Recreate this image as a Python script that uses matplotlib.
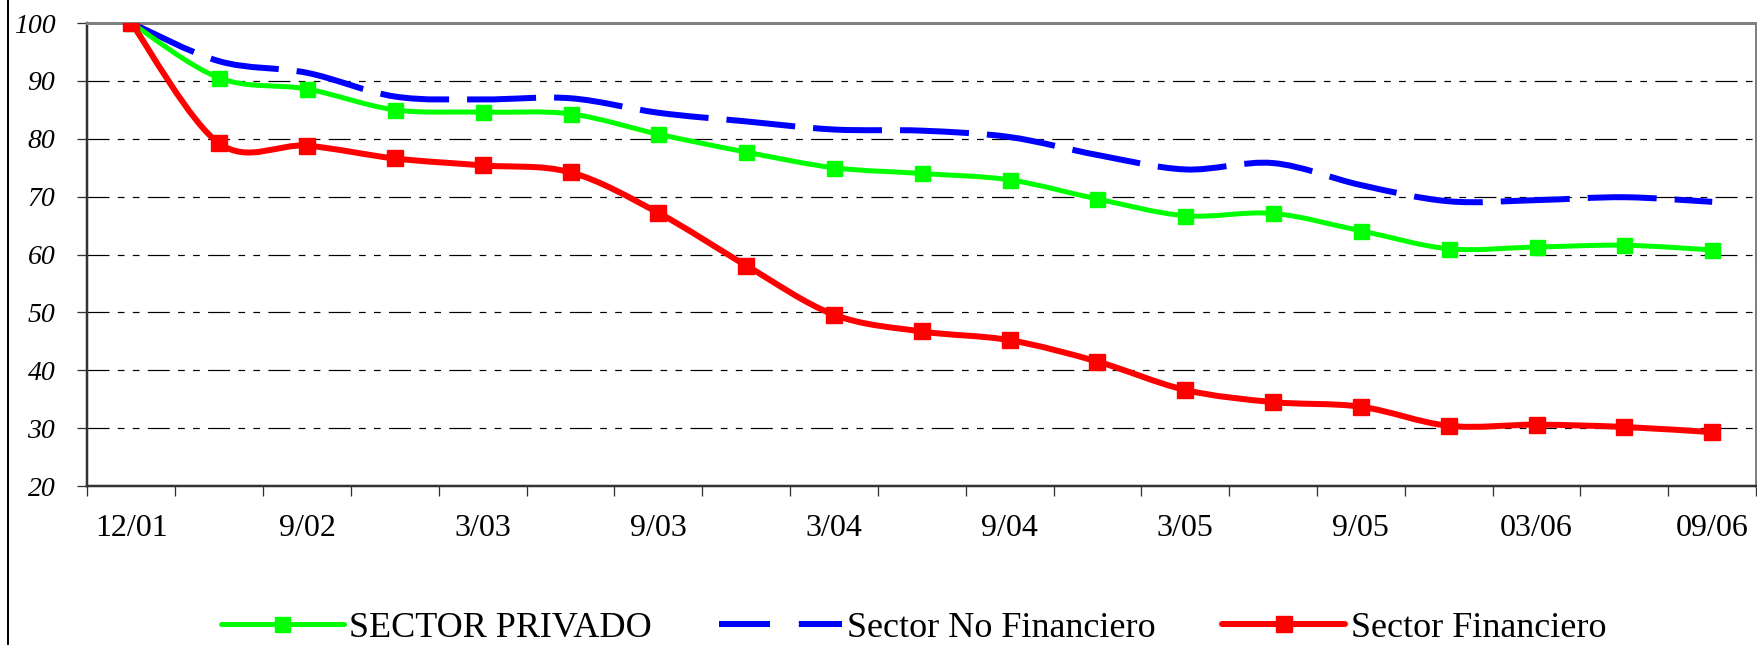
import numpy as np
import matplotlib
matplotlib.use('Agg')
import matplotlib.pyplot as plt
from matplotlib.path import Path
from matplotlib.patches import PathPatch
from matplotlib.lines import Line2D

# %%
# Data (index, base 12/01 = 100)
tick_labels = ['12/01', '', '9/02', '', '3/03', '', '9/03', '', '3/04', '',
               '9/04', '', '3/05', '', '9/05', '', '03/06', '', '09/06']
privado = [100, 90.5, 88.6, 85.0, 84.6, 84.3, 80.8, 77.7, 75.0, 74.0,
           72.9, 69.6, 66.7, 67.1, 64.1, 61.0, 61.3, 61.6, 60.8]
no_financiero = [100, 93.4, 91.4, 87.3, 86.8, 87.0, 84.5, 83.0, 81.6, 81.4,
                 80.3, 77.2, 74.7, 75.8, 72.0, 69.2, 69.4, 69.9, 69.1]
financiero = [100, 79.2, 78.8, 76.6, 75.4, 74.2, 67.2, 58.1, 49.6, 46.7,
              45.2, 41.5, 36.6, 34.5, 33.7, 30.4, 30.6, 30.2, 29.3]
y_ticks = [20, 30, 40, 50, 60, 70, 80, 90, 100]

px = 0.72  # one pixel in points at dpi 100


def smooth_path(y):
    # Excel style smoothed line: cubic Bezier through each point
    x = np.arange(len(y), dtype=float)
    pts = np.column_stack([x, np.asarray(y, dtype=float)])
    ext = np.vstack([pts[0], pts, pts[-1]])
    verts = [pts[0]]
    codes = [Path.MOVETO]
    for i in range(len(pts) - 1):
        p0, p1, p2, p3 = ext[i], ext[i + 1], ext[i + 2], ext[i + 3]
        verts += [p1 + (p2 - p0) / 6, p2 - (p3 - p1) / 6, p2]
        codes += [Path.CURVE4] * 3
    return Path(verts, codes)


# %%
plt.rcParams['font.family'] = ['Liberation Serif', 'DejaVu Serif']
fig = plt.figure(figsize=(17.57, 6.45), dpi=100)
ax = fig.add_axes([0.0498, 0.2465, 0.9497, 0.7178])

x = np.arange(len(privado))

# blue dashed, no markers
ax.add_patch(PathPatch(smooth_path(no_financiero), fill=False,
                       edgecolor='#0000FF', lw=6 * px,
                       linestyle=(0, (11.5, 3.0)), capstyle='butt',
                       zorder=3))
# green with markers
ax.add_patch(PathPatch(smooth_path(privado), fill=False, edgecolor='#00FF00',
                       lw=5 * px, capstyle='round', joinstyle='round',
                       zorder=4))
ax.plot(x, privado, ls='none', marker='s', ms=15 * px, color='#00FF00',
        zorder=5)
# red with markers
ax.add_patch(PathPatch(smooth_path(financiero), fill=False,
                       edgecolor='#FF0000', lw=6 * px, capstyle='round',
                       joinstyle='round', zorder=4))
ax.plot(x, financiero, ls='none', marker='s', ms=16 * px, color='#FF0000',
        zorder=5)

ax.set_xlim(-0.5, len(privado) - 0.5)
ax.set_ylim(20, 100)
ax.set_yticks(y_ticks)
ax.set_yticklabels([str(v) for v in y_ticks], fontsize=20, style='italic')
ax.set_xticks(x)
ax.set_xticklabels(tick_labels, fontsize=23)
ax.set_xticks(np.arange(-0.5, len(privado)), minor=True)
ax.tick_params(axis='x', which='major', length=0, pad=20)
ax.tick_params(axis='x', which='minor', length=10 * px, width=1.3 * px,
               color='#333333', direction='out')
ax.tick_params(axis='y', which='major', length=10 * px, width=1.3 * px,
               color='#333333', pad=16)

# long-dash / dot / dot grid
grid_lw = 1.2 * px
pat = [22, 8.3, 6.7, 8.3, 6.7, 8.3]
ax.yaxis.grid(True, color='black', lw=grid_lw,
              linestyle=(0, [p * px / grid_lw for p in pat]))
ax.set_axisbelow(True)

for side in ['top', 'right']:
    ax.spines[side].set_color('#808080')
    ax.spines[side].set_linewidth(3 * px)
for side in ['left', 'bottom']:
    ax.spines[side].set_color('#333333')
    ax.spines[side].set_linewidth(2.5 * px)

# left border of the original frame
fig.add_artist(Line2D([8.3 / 1757, 8.3 / 1757], [0, 1], color='black',
                      lw=2 * px, transform=fig.transFigure))

handles = [
    Line2D([], [], color='#00FF00', lw=5 * px, marker='s', ms=15 * px,
           solid_capstyle='round'),
    Line2D([], [], color='#0000FF', lw=6 * px, dashes=(8.5, 4.8),
           dash_capstyle='butt'),
    Line2D([], [], color='#FF0000', lw=6 * px, marker='s', ms=16 * px,
           solid_capstyle='round'),
]
labels = ['SECTOR PRIVADO', 'Sector No Financiero', 'Sector Financiero']
fig.legend(handles, labels, loc='lower left',
           bbox_to_anchor=(221 / 1757, 0.0), ncol=3, frameon=False,
           fontsize=26, handlelength=3.4, handletextpad=0.15,
           columnspacing=1.85, numpoints=1, borderpad=0, borderaxespad=0)

fig.savefig('out.png', dpi=100)
